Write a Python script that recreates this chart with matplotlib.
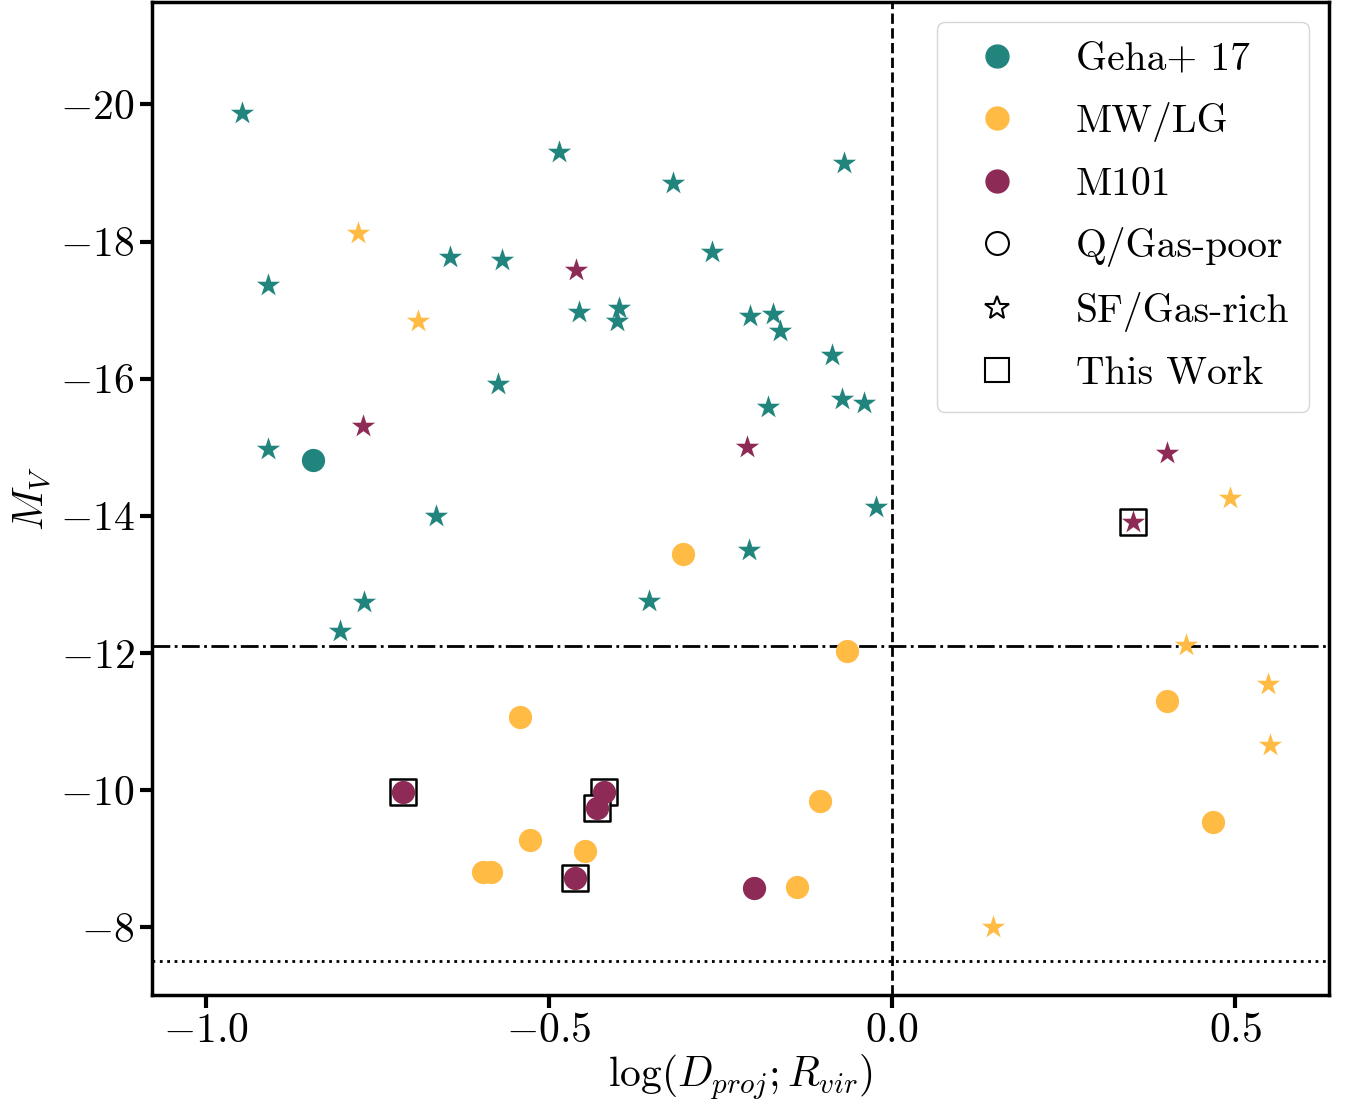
import matplotlib
matplotlib.use("Agg")
import matplotlib.pyplot as plt
from matplotlib.lines import Line2D

plt.rcParams["font.family"] = "serif"
plt.rcParams["font.serif"] = ["cmr10", "DejaVu Serif"]
plt.rcParams["mathtext.fontset"] = "cm"
plt.rcParams["axes.formatter.use_mathtext"] = True
plt.rcParams["axes.unicode_minus"] = True

TEAL = "#21857e"
YELLOW = "#ffbb44"
MAROON = "#8d2a55"

# Geha+17
geha_sf_x = [-0.948, -0.485, -0.070, -0.319, -0.910, -0.644, -0.569, -0.262,
             -0.456, -0.398, -0.401, -0.207, -0.173, -0.163, -0.087, -0.574,
             -0.181, -0.073, -0.041, -0.910, -0.665, -0.023, -0.208, -0.354,
             -0.770, -0.805]
geha_sf_y = [-19.87, -19.30, -19.14, -18.85, -17.36, -17.77, -17.73, -17.84,
             -16.97, -17.03, -16.84, -16.92, -16.94, -16.69, -16.34, -15.92,
             -15.58, -15.71, -15.64, -14.97, -13.99, -14.13, -13.50, -12.76,
             -12.74, -12.32]
geha_q_x = [-0.844]
geha_q_y = [-14.81]

# MW/LG
mw_sf_x = [-0.778, -0.691, 0.493, 0.429, 0.548, 0.551, 0.147]
mw_sf_y = [-18.12, -16.84, -14.26, -12.11, -11.55, -10.66, -8.00]
mw_q_x = [-0.305, -0.066, -0.542, 0.401, -0.105, 0.468, -0.528, -0.448,
          -0.596, -0.585, -0.138]
mw_q_y = [-13.44, -12.03, -11.06, -11.30, -9.84, -9.53, -9.27, -9.11,
          -8.80, -8.80, -8.59]

# M101
m101_sf_x = [-0.461, -0.771, -0.211, 0.401, 0.351]
m101_sf_y = [-17.59, -15.31, -15.00, -14.91, -13.91]
m101_q_x = [-0.713, -0.420, -0.430, -0.462, -0.201]
m101_q_y = [-9.97, -9.97, -9.74, -8.72, -8.57]

# This work (boxed)
work_x = [0.351, -0.713, -0.420, -0.430, -0.462]
work_y = [-13.91, -9.97, -9.97, -9.74, -8.72]

fig = plt.figure(figsize=(13.53, 11.04), dpi=100)
ax = fig.add_axes([0.1123, 0.0987, 0.870, 0.8993])

ax.axvline(0.0, color="black", ls="--", lw=2)
ax.axhline(-12.1, color="black", ls="-.", lw=2)
ax.axhline(-7.5, color="black", ls=":", lw=2)

ax.scatter(work_x, work_y, marker="s", s=340, facecolor="white",
           edgecolor="black", lw=1.8, zorder=3)

star_s = 310
circ_s = 280
ax.scatter(geha_sf_x, geha_sf_y, marker="*", s=star_s, color=TEAL, lw=0, zorder=4)
ax.scatter(geha_q_x, geha_q_y, marker="o", s=circ_s, color=TEAL, lw=0, zorder=4)
ax.scatter(mw_sf_x, mw_sf_y, marker="*", s=star_s, color=YELLOW, lw=0, zorder=4)
ax.scatter(mw_q_x, mw_q_y, marker="o", s=circ_s, color=YELLOW, lw=0, zorder=4)
ax.scatter(m101_sf_x, m101_sf_y, marker="*", s=star_s, color=MAROON, lw=0, zorder=4)
ax.scatter(m101_q_x, m101_q_y, marker="o", s=circ_s, color=MAROON, lw=0, zorder=4)

ax.set_xlim(-1.079, 0.637)
ax.set_ylim(-7.01, -21.49)
ax.set_xticks([-1.0, -0.5, 0.0, 0.5])
ax.set_yticks([-20, -18, -16, -14, -12, -10, -8])
ax.tick_params(labelsize=30, width=3, length=9)
for sp in ax.spines.values():
    sp.set_linewidth(2.5)

ax.set_xlabel(r"$\log(D_{proj}; R_{vir})$", fontsize=30, labelpad=2)
ax.set_ylabel(r"$M_V$", fontsize=30, labelpad=4)

handles = [
    Line2D([], [], ls="", marker="o", ms=16.5, color=TEAL),
    Line2D([], [], ls="", marker="o", ms=16.5, color=YELLOW),
    Line2D([], [], ls="", marker="o", ms=16.5, color=MAROON),
    Line2D([], [], ls="", marker="o", ms=16.5, mfc="white", mec="black", mew=1.5),
    Line2D([], [], ls="", marker="*", ms=18, mfc="white", mec="black", mew=1.5),
    Line2D([], [], ls="", marker="s", ms=17, mfc="white", mec="black", mew=1.5),
]
labels = ["Geha+ 17", "MW/LG", "M101", "Q/Gas-poor", "SF/Gas-rich", "This Work"]
ax.legend(handles, labels, loc="upper right", fontsize=28.5, handletextpad=1.0,
          labelspacing=0.62, borderpad=0.5)

fig.savefig("out.png", dpi=100)
